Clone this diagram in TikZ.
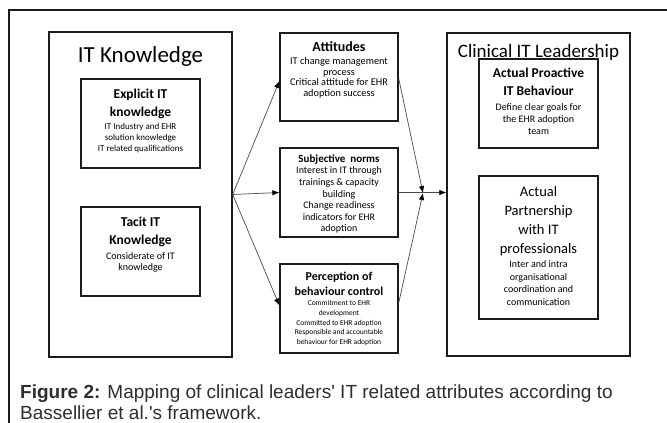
\documentclass[tikz,border=0pt]{standalone}
\usepackage{fontspec}
\setmainfont{Carlito}
\newfontfamily\capfont{Liberation Sans}
\usepackage{tikz}
\usetikzlibrary{arrows.meta}
\usetikzlibrary{positioning}
\definecolor{boxcolor}{HTML}{1C1C1C}
\definecolor{arrowcolor}{HTML}{4A4A4A}
\definecolor{captioncolor}{HTML}{2E2E2E}

\begin{document}
\begin{tikzpicture}[x=1pt,y=-1pt,
  frame/.style={draw=boxcolor,line width=1.4pt,inner sep=0pt,minimum width=183pt},
  box/.style={draw=boxcolor,line width=1.2pt,inner sep=0pt,minimum width=119pt,minimum height=89pt},
  title/.style={anchor=base,inner sep=0pt},
  hd/.style={align=center,inner sep=0pt,font=\bfseries\fontsize{13.5}{18}\selectfont},
  bd/.style={align=center,inner sep=0pt,font=\fontsize{9.5}{11}\selectfont},
  link/.style={draw=arrowcolor,line width=0.7pt,-{Latex[length=7pt,width=5.5pt,color=black]}}]
\useasboundingbox (0,0) rectangle (667,423);
\draw[boxcolor,line width=1.5pt] (9,423) -- (9,10) -- (667,10);

% IT knowledge side
\node[frame,minimum height=325pt] (itk) at (140.5,194.5) {};
\node[title,font=\fontsize{23}{26}\selectfont] (itktitle) at (140.5,62) {IT Knowledge};
\node[box] (expl) at (140.5,123.5) {};
\node[hd,below=10.5pt of expl.north] (explhd) {Explicit IT\\knowledge};
\node[bd,font=\fontsize{9}{11}\selectfont,below=4pt of explhd] (explbd) {IT Industry and EHR\\solution knowledge\\IT related qualifications};
\node[box] (tacit) at (140.5,251.5) {};
\node[hd,font=\bfseries\fontsize{13.5}{17.5}\selectfont,below=10.5pt of tacit.north] (tacithd) {Tacit IT\\Knowledge};
\node[bd,font=\fontsize{10}{11}\selectfont,below=5.5pt of tacithd] (tacitbd) {Considerate of IT\\knowledge};

% middle column
\node[box,minimum width=118pt,minimum height=88pt] (att) at (339,77) {};
\node[hd,font=\bfseries\fontsize{14}{18}\selectfont,below=9pt of att.north] (atthd) {Attitudes};
\node[bd,font=\fontsize{10.3}{10.7}\selectfont,below=5.5pt of atthd] (attbd) {IT change management\\process\\Critical attitude for EHR\\adoption success};
\node[box,minimum width=118pt] (subj) at (339,192.5) {};
\node[hd,font=\bfseries\fontsize{11}{13}\selectfont,below=7.4pt of subj.north] (subjhd) {Subjective\ \ norms};
\node[bd,font=\fontsize{10}{11.6}\selectfont,below=2pt of subjhd] (subjbd) {Interest in IT through\\trainings \& capacity\\building\\Change readiness\\indicators for EHR\\adoption};
\node[box,minimum width=118pt] (perc) at (339,308.5) {};
\node[hd,font=\bfseries\fontsize{12}{15}\selectfont,below=8pt of perc.north] (perchd) {Perception of\\behaviour control};
\node[bd,font=\fontsize{7.5}{9.7}\selectfont,below=5pt of perchd] (percbd) {Commitment to EHR\\development\\Committed to EHR adoption\\Responsible and accountable\\behaviour for EHR adoption};

% clinical IT leadership side
\node[frame,minimum height=323pt] (clin) at (538.5,194.5) {};
\node[title,font=\fontsize{19}{22}\selectfont] (clintitle) at (538.5,57) {Clinical IT Leadership};
\node[box] (pro) at (538.5,103.5) {};
\node[hd,below=9.5pt of pro.north] (prohd) {Actual Proactive\\IT Behaviour};
\node[bd,font=\fontsize{10}{12.2}\selectfont,below=7.5pt of prohd] (probd) {Define clear goals for\\the EHR adoption\\team};
\node[box,minimum height=143pt] (part) at (538.5,247.5) {};
\node[hd,font=\fontsize{14.5}{19}\selectfont,below=10.5pt of part.north] (parthd) {Actual\\Partnership\\with IT\\professionals};
\node[bd,font=\fontsize{10}{12.5}\selectfont,below=5pt of parthd] (partbd) {Inter and intra\\organisational\\coordination and\\communication};

% connectors
\coordinate (meet) at (423,193);
\draw[link] (itk.east) -- ([yshift=-4pt]att.west);
\draw[link] (itk.east) -- (subj.west);
\draw[link] (itk.east) -- ([yshift=3pt]perc.west);
\draw[link] ([yshift=-1pt]att.east) -- (meet);
\draw[link] ([yshift=5pt]perc.east) -- (meet);
\draw[link] (subj.east) -- (subj.east -| clin.west);

% caption
\node[anchor=base west,inner sep=0pt,align=left,text=captioncolor,
  font=\capfont\fontsize{19}{21}\selectfont] (cap) at (20,419)
  {\textbf{Figure 2:} Mapping of clinical leaders' IT related attributes according to\\Bassellier et al.'s framework.};
\end{tikzpicture}
\end{document}
